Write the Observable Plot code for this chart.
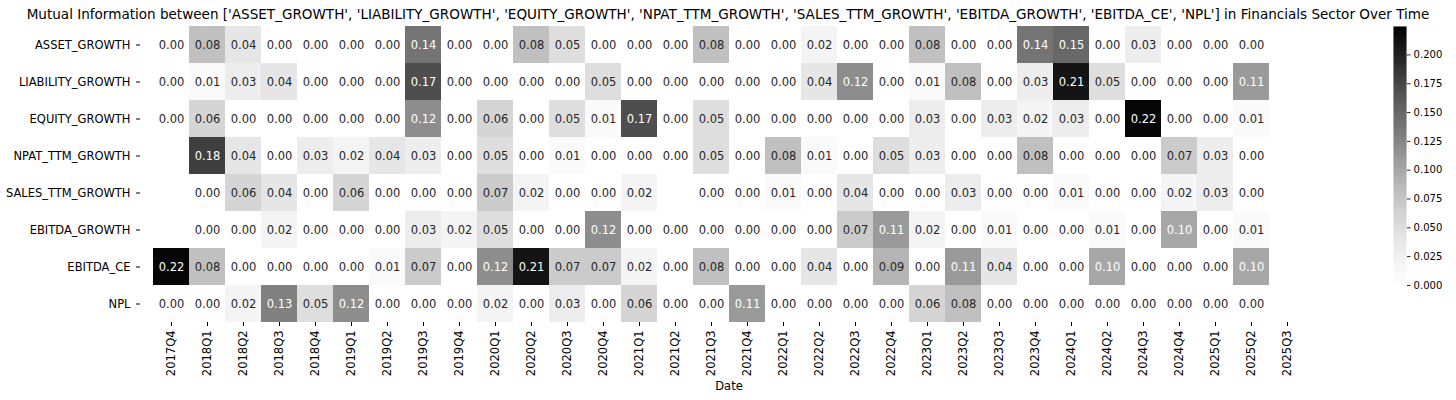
<!DOCTYPE html>
<html>
<head>
<meta charset="utf-8">
<script src="https://cdn.jsdelivr.net/npm/d3@7"></script>
<script src="https://cdn.jsdelivr.net/npm/@observablehq/plot@0.6"></script>
<style>
  html, body { margin: 0; padding: 0; background: #fff; }
  body { width: 1456px; height: 400px; overflow: hidden; font-family: "DejaVu Sans", sans-serif; color: #000; }
  #title { height: 26px; line-height: 28px; text-align: center; font-size: 13.55px; white-space: nowrap; }
  #wrap { position: relative; width: 1456px; height: 374px; }
  #cbar { position: absolute; left: 1393px; top: 0px; }
</style>
</head>
<body>
<div id="title">Mutual Information between ['ASSET_GROWTH', 'LIABILITY_GROWTH', 'EQUITY_GROWTH', 'NPAT_TTM_GROWTH', 'SALES_TTM_GROWTH', 'EBITDA_GROWTH', 'EBITDA_CE', 'NPL'] in Financials Sector Over Time</div>
<div id="wrap"><div id="main"></div><div id="cbar"></div></div>
<script>
const quarters = ["2017Q4","2018Q1","2018Q2","2018Q3","2018Q4","2019Q1","2019Q2","2019Q3","2019Q4",
  "2020Q1","2020Q2","2020Q3","2020Q4","2021Q1","2021Q2","2021Q3","2021Q4",
  "2022Q1","2022Q2","2022Q3","2022Q4","2023Q1","2023Q2","2023Q3","2023Q4",
  "2024Q1","2024Q2","2024Q3","2024Q4","2025Q1","2025Q2","2025Q3"];
const variables = ["ASSET_GROWTH","LIABILITY_GROWTH","EQUITY_GROWTH","NPAT_TTM_GROWTH","SALES_TTM_GROWTH","EBITDA_GROWTH","EBITDA_CE","NPL"];

const assetGrowth    = [0.00,0.08,0.04,0.00,0.00,0.00,0.00,0.14,0.00,0.00,0.08,0.05,0.00,0.00,0.00,0.08,0.00,0.00,0.02,0.00,0.00,0.08,0.00,0.00,0.14,0.15,0.00,0.03,0.00,0.00,0.00,null];
const liabilityGrowth= [0.00,0.01,0.03,0.04,0.00,0.00,0.00,0.17,0.00,0.00,0.00,0.00,0.05,0.00,0.00,0.00,0.00,0.00,0.04,0.12,0.00,0.01,0.08,0.00,0.03,0.21,0.05,0.00,0.00,0.00,0.11,null];
const equityGrowth   = [0.00,0.06,0.00,0.00,0.00,0.00,0.00,0.12,0.00,0.06,0.00,0.05,0.01,0.17,0.00,0.05,0.00,0.00,0.00,0.00,0.00,0.03,0.00,0.03,0.02,0.03,0.00,0.22,0.00,0.00,0.01,null];
const npatTtmGrowth  = [null,0.18,0.04,0.00,0.03,0.02,0.04,0.03,0.00,0.05,0.00,0.01,0.00,0.00,0.00,0.05,0.00,0.08,0.01,0.00,0.05,0.03,0.00,0.00,0.08,0.00,0.00,0.00,0.07,0.03,0.00,null];
const salesTtmGrowth = [null,0.00,0.06,0.04,0.00,0.06,0.00,0.00,0.00,0.07,0.02,0.00,0.00,0.02,null,0.00,0.00,0.01,0.00,0.04,0.00,0.00,0.03,0.00,0.00,0.01,0.00,0.00,0.02,0.03,0.00,null];
const ebitdaGrowth   = [null,0.00,0.00,0.02,0.00,0.00,0.00,0.03,0.02,0.05,0.00,0.00,0.12,0.00,0.00,0.00,0.00,0.00,0.00,0.07,0.11,0.02,0.00,0.01,0.00,0.00,0.01,0.00,0.10,0.00,0.01,null];
const ebitdaCe       = [0.22,0.08,0.00,0.00,0.00,0.00,0.01,0.07,0.00,0.12,0.21,0.07,0.07,0.02,0.00,0.08,0.00,0.00,0.04,0.00,0.09,0.00,0.11,0.04,0.00,0.00,0.10,0.00,0.00,0.00,0.10,null];
const npl            = [0.00,0.00,0.02,0.13,0.05,0.12,0.00,0.00,0.00,0.02,0.00,0.03,0.00,0.06,0.00,0.00,0.11,0.00,0.00,0.00,0.00,0.06,0.08,0.00,0.00,0.00,0.00,0.00,0.00,0.00,0.00,null];

const colorbarTicks = [0, 0.025, 0.05, 0.075, 0.1, 0.125, 0.15, 0.175, 0.2];
const vmax = 0.2247;

const series = [assetGrowth, liabilityGrowth, equityGrowth, npatTtmGrowth, salesTtmGrowth, ebitdaGrowth, ebitdaCe, npl];
const table = variables.flatMap((v, i) => series[i].map((val, j) => ({variable: v, date: quarters[j], value: val})))
  .filter(d => d.value != null);

function lum(v) {
  const c = d3.rgb(d3.interpolateGreys(v / vmax));
  const f = x => { x /= 255; return x <= 0.03928 ? x / 12.92 : Math.pow((x + 0.055) / 1.055, 2.4); };
  return 0.2126 * f(c.r) + 0.7152 * f(c.g) + 0.0722 * f(c.b);
}
const isDark = d => lum(d.value) <= 0.408;
const fmt = d3.format(".2f");
const FS = 11.5;

const main = Plot.plot({
  width: 1456, height: 374,
  marginLeft: 140, marginRight: 139, marginTop: 0, marginBottom: 78,
  style: {fontFamily: "DejaVu Sans", fontSize: FS + "px", color: "#000", background: "white"},
  x: {domain: quarters, padding: 0},
  y: {domain: variables, padding: 0},
  color: {type: "linear", scheme: "greys", domain: [0, vmax]},
  marks: [
    Plot.cell(table, {x: "date", y: "variable", fill: "value"}),
    Plot.text(table, {x: "date", y: "variable", text: d => fmt(d.value), filter: d => !isDark(d), fill: "#262626", fontSize: FS}),
    Plot.text(table, {x: "date", y: "variable", text: d => fmt(d.value), filter: isDark, fill: "white", fontSize: FS}),
    Plot.axisX({tickRotate: -90, tickSize: 4, tickPadding: 4, fontSize: FS, label: "Date", labelAnchor: "center", labelArrow: "none", labelOffset: 67}),
    Plot.axisY({tickSize: 4, tickPadding: 6, fontSize: FS, label: null})
  ]
});
document.getElementById("main").appendChild(main);

const cbar = Plot.plot({
  width: 72, height: 308,
  marginLeft: 0, marginRight: 57, marginTop: 0, marginBottom: 12,
  style: {fontFamily: "DejaVu Sans", fontSize: FS + "px", color: "#000", background: "transparent"},
  x: {domain: [0, 1], axis: null},
  y: {domain: [0, vmax]},
  color: {type: "linear", scheme: "greys", domain: [0, vmax]},
  marks: [
    Plot.raster({fill: (x, y) => y, x1: 0, x2: 1, y1: 0, y2: vmax, pixelSize: 1}),
    Plot.axisY({anchor: "right", ticks: colorbarTicks, tickFormat: ".3f", tickSize: 4, tickPadding: 4, fontSize: FS, label: null})
  ]
});
document.getElementById("cbar").appendChild(cbar);
</script>
</body>
</html>
